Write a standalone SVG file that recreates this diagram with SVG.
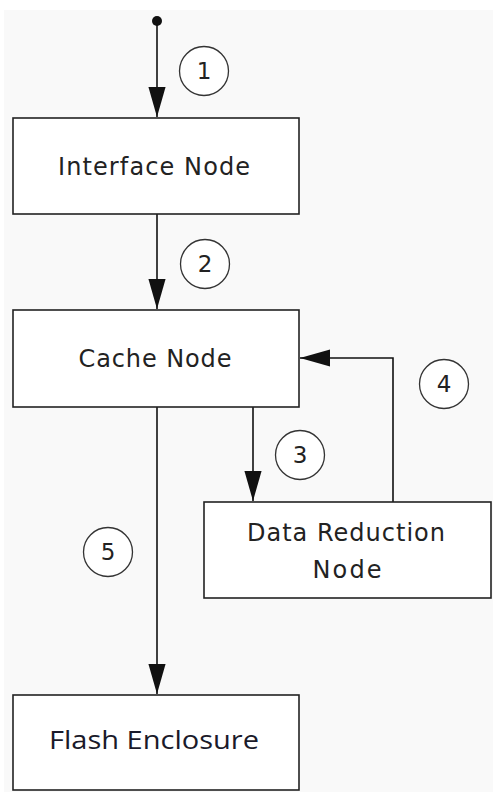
<svg xmlns="http://www.w3.org/2000/svg" width="493" height="792" viewBox="0 0 493 792">
<style>
.box{fill:#fff;stroke:#222;stroke-width:1.6}
.lbl{font-family:"DejaVu Sans",sans-serif;font-size:24px;fill:#222;text-anchor:middle}
.fl{font-family:"Open Sans","Noto Sans",sans-serif;font-size:26px;fill:#1a1a2a;text-anchor:middle}
.conn{fill:none;stroke:#111;stroke-width:1.6}
.num{fill:#fff;stroke:#333;stroke-width:1.3}
.nt{font-family:"DejaVu Sans",sans-serif;font-size:23px;fill:#222;text-anchor:middle}
</style>
<defs>
<marker id="ah" markerUnits="userSpaceOnUse" markerWidth="30" markerHeight="18" viewBox="0 0 28 16" refX="28" refY="8" orient="auto">
<path d="M0,0 L28,8 L0,16 Z" fill="#111"/>
</marker>
</defs>
<rect width="493" height="792" fill="#fff"/>
<rect x="4" y="10" width="489" height="782" fill="#f9f9f9"/>
<g id="connectors">
<circle cx="157" cy="21" r="5" fill="#111"/>
<path class="conn" d="M157,21 V117" marker-end="url(#ah)"/>
<path class="conn" d="M157,214 V309" marker-end="url(#ah)"/>
<path class="conn" d="M253,407 V501" marker-end="url(#ah)"/>
<path class="conn" d="M393,502 V358 H300" marker-end="url(#ah)"/>
<path class="conn" d="M157,407 V694" marker-end="url(#ah)"/>
</g>
<g id="label1"><circle class="num" cx="204" cy="71" r="24.5"/><text class="nt" x="204" y="79">1</text></g>
<g id="label2"><circle class="num" cx="205" cy="264" r="24.5"/><text class="nt" x="205" y="272">2</text></g>
<g id="label3"><circle class="num" cx="300" cy="455" r="24.5"/><text class="nt" x="300" y="463">3</text></g>
<g id="label4"><circle class="num" cx="444" cy="384" r="24.5"/><text class="nt" x="444" y="392">4</text></g>
<g id="label5"><circle class="num" cx="108" cy="552" r="24.5"/><text class="nt" x="108" y="560">5</text></g>
<g id="interface-node"><rect class="box" x="13" y="118" width="286" height="96"/><text class="lbl" x="154" y="175" textLength="192" lengthAdjust="spacing">Interface Node</text></g>
<g id="cache-node"><rect class="box" x="13" y="310" width="286" height="97"/><text class="lbl" x="155" y="367" textLength="153" lengthAdjust="spacing">Cache Node</text></g>
<g id="data-reduction-node"><rect class="box" x="204" y="502" width="287" height="96"/><text class="lbl" x="346" y="541" textLength="198" lengthAdjust="spacing">Data Reduction</text><text class="lbl" x="347" y="578" textLength="69" lengthAdjust="spacing">Node</text></g>
<g id="flash-enclosure"><rect class="box" x="13" y="695" width="286" height="95"/><text class="fl" x="154" y="749" textLength="210" lengthAdjust="spacingAndGlyphs">Flash Enclosure</text></g>
</svg>
